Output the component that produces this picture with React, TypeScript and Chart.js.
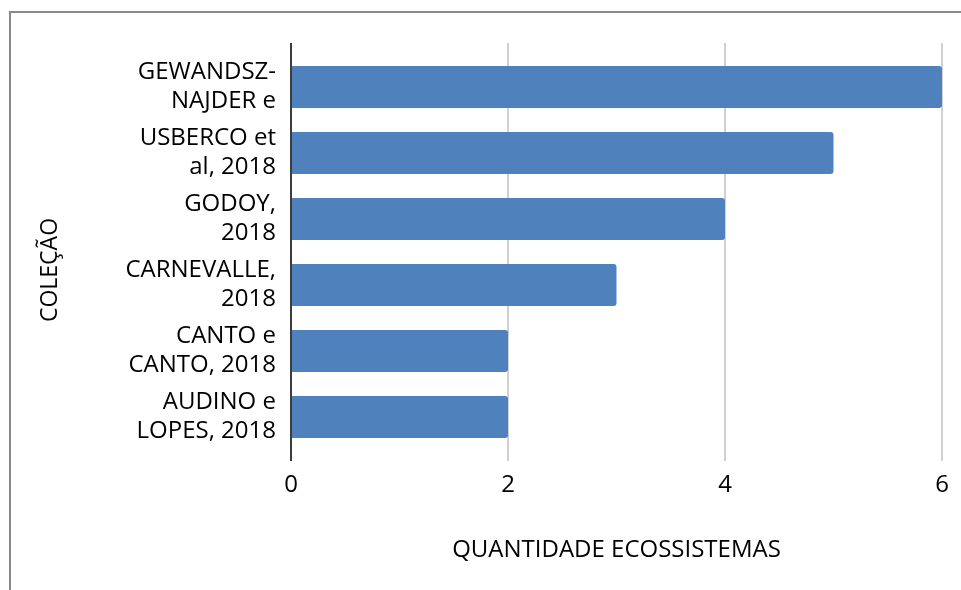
import React, { useEffect, useRef } from "react";
import { Chart, registerables } from "chart.js";

Chart.register(...registerables);

const categories: string[][] = [
  ["GEWANDSZ-", "NAJDER e"],
  ["USBERCO et", "al, 2018"],
  ["GODOY,", "2018"],
  ["CARNEVALLE,", "2018"],
  ["CANTO e", "CANTO, 2018"],
  ["AUDINO e", "LOPES, 2018"],
];
const values: number[] = [6, 5, 4, 3, 2, 2];
const xTicks: number[] = [0, 2, 4, 6];
const xTitle = "QUANTIDADE ECOSSISTEMAS";
const yTitle = "COLEÇÃO";

const FONT = "'Open Sans', sans-serif";
const BAR_COLOR = "#4f81bd";
const GRID_COLOR = "#d0d0d0";
const AXIS_COLOR = "#3c3c3c";
const TEXT_COLOR = "#000000";
const EXT = 11;

const extras = {
  id: "extras",
  beforeDatasetsDraw(chart: any) {
    const { ctx, chartArea, scales } = chart;
    const x = scales.x;
    ctx.save();
    ctx.strokeStyle = GRID_COLOR;
    ctx.lineWidth = 2;
    x.ticks.forEach((t: any) => {
      const px = x.getPixelForValue(t.value);
      ctx.beginPath();
      ctx.moveTo(px, chartArea.top - EXT);
      ctx.lineTo(px, chartArea.top);
      ctx.stroke();
    });
    ctx.restore();
  },
  afterDatasetsDraw(chart: any) {
    const { ctx, chartArea, scales } = chart;
    const x = scales.x;
    const px = x.getPixelForValue(0);
    ctx.save();
    ctx.strokeStyle = AXIS_COLOR;
    ctx.lineWidth = 2;
    ctx.beginPath();
    ctx.moveTo(px, chartArea.top - EXT);
    ctx.lineTo(px, chartArea.bottom + EXT);
    ctx.stroke();
    // y-axis title
    ctx.translate(50, 270);
    ctx.rotate(-Math.PI / 2);
    ctx.fillStyle = TEXT_COLOR;
    ctx.font = `23px ${FONT}`;
    ctx.textAlign = "center";
    ctx.textBaseline = "middle";
    ctx.fillText(yTitle, 0, 0);
    ctx.restore();
  },
};

export default function App() {
  const ref = useRef<HTMLCanvasElement | null>(null);
  useEffect(() => {
    if (!ref.current) return;
    const chart = new Chart(ref.current, {
      type: "bar",
      data: {
        labels: categories,
        datasets: [
          {
            data: values,
            backgroundColor: BAR_COLOR,
            borderRadius: 3,
            borderSkipped: "start",
            barPercentage: 0.636,
            categoryPercentage: 1,
          },
        ],
      },
      options: {
        indexAxis: "y",
        animation: false,
        responsive: false,
        devicePixelRatio: 1,
        layout: { padding: { top: 54, right: 19, left: 0, bottom: 0 } },
        plugins: { legend: { display: false }, tooltip: { enabled: false } },
        scales: {
          x: {
            min: 0,
            max: 6,
            afterBuildTicks: (s: any) => {
              s.ticks = xTicks.map((v) => ({ value: v }));
            },
            afterFit: (s: any) => {
              s.height = 140;
            },
            grid: {
              color: GRID_COLOR,
              lineWidth: 2,
              drawTicks: true,
              tickLength: EXT,
              tickColor: GRID_COLOR,
            },
            border: { display: false },
            ticks: {
              padding: 10,
              color: TEXT_COLOR,
              font: { family: FONT, size: 24, lineHeight: 1.2 },
            },
            title: {
              display: true,
              text: xTitle,
              color: TEXT_COLOR,
              font: { family: FONT, size: 24, lineHeight: 1.2 },
              padding: { top: 25, bottom: 25 },
            },
          },
          y: {
            afterFit: (s: any) => {
              s.width = 291;
            },
            grid: { display: false, drawTicks: false },
            border: { display: false },
            ticks: {
              padding: 15,
              color: TEXT_COLOR,
              font: { family: FONT, size: 24, lineHeight: 1.2 },
            },
          },
        },
      },
      plugins: [extras],
    });
    return () => chart.destroy();
  }, []);
  return (
    <div
      style={{
        position: "fixed",
        left: 0,
        top: 0,
        width: 961,
        height: 590,
        background: "#fff",
        overflow: "hidden",
      }}
    >
      <canvas ref={ref} width={961} height={590} style={{ display: "block" }} />
      <div
        style={{
          position: "absolute",
          left: 9,
          top: 11,
          width: 980,
          height: 620,
          borderLeft: "2px solid #8a8a8a",
          borderTop: "2px solid #8a8a8a",
          pointerEvents: "none",
        }}
      />
    </div>
  );
}
